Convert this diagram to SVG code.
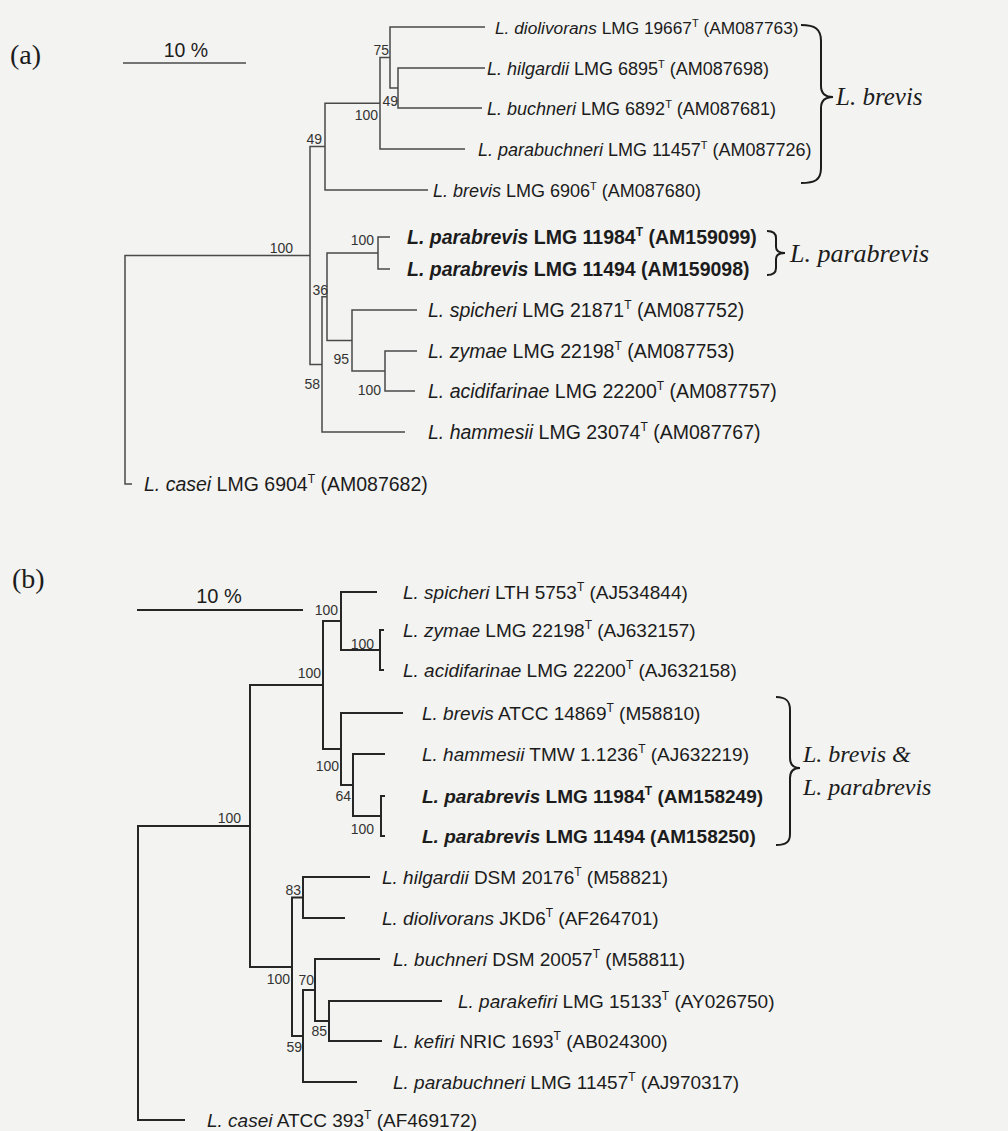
<svg xmlns="http://www.w3.org/2000/svg" width="1008" height="1131" viewBox="0 0 1008 1131">
<style>
.bg{fill:#f3f3f1}
.ta{font-family:"Liberation Sans",Arial,sans-serif;font-size:19.5px;fill:#1c1c1c}
.ts{font-family:"Liberation Sans",Arial,sans-serif;font-size:18px;fill:#1c1c1c}
.tb{font-family:"Liberation Sans",Arial,sans-serif;font-size:19px;fill:#1c1c1c}
.bd{font-weight:bold}
.it{font-style:italic}
.sup{font-size:12px}
.bs{font-family:"Liberation Sans",Arial,sans-serif;font-size:14px;fill:#333;text-anchor:end}
.panel{font-family:"Liberation Serif","Times New Roman",serif;font-size:28px;fill:#1c1c1c}
.grp{font-family:"Liberation Serif","Times New Roman",serif;font-size:25px;font-style:italic;fill:#1c1c1c}
.la{fill:none;stroke:#4a4a4a;stroke-width:1.5}
.lb{fill:none;stroke:#262626;stroke-width:2}
.br{fill:none;stroke:#1c1c1c;stroke-width:2}
</style>
<rect class="bg" x="0" y="0" width="1008" height="1131"/>

<!-- Panel (a) -->
<text class="panel" x="10" y="64">(a)</text>
<g id="scale-a">
<line class="la" x1="123" y1="63" x2="246" y2="63"/>
<text class="ta" x="186" y="57" text-anchor="middle">10 %</text>
</g>

<g id="connectors-a">
<path class="la" d="M485 68 H398 V108 H482"/>
<path class="la" d="M485 27 H390 V88 H398"/>
<path class="la" d="M390 57.5 H380 V149 H465"/>
<path class="la" d="M380 103.25 H325 V190 H428"/>
<path class="la" d="M390 237 H378 V269 H390"/>
<path class="la" d="M417 351 H385 V391 H415"/>
<path class="la" d="M417 310 H352 V371 H385"/>
<path class="la" d="M378 253 H327 V340.5 H352"/>
<path class="la" d="M327 296.75 H322 V432 H405"/>
<path class="la" d="M325 146.6 H310 V364.4 H322"/>
<path class="la" d="M310 255.5 H125 V484 H132"/>
</g>

<g id="bootstrap-a">
<text class="bs" x="389" y="55">75</text>
<text class="bs" x="398" y="106">49</text>
<text class="bs" x="378" y="120">100</text>
<text class="bs" x="322" y="144">49</text>
<text class="bs" x="293" y="253">100</text>
<text class="bs" x="374" y="245">100</text>
<text class="bs" x="328" y="295">36</text>
<text class="bs" x="349" y="364">95</text>
<text class="bs" x="320" y="389">58</text>
<text class="bs" x="381" y="395">100</text>
</g>

<g id="a-diolivorans"><text class="ts" x="495" y="33.5" style="font-size:17.3px"><tspan class="it">L. diolivorans</tspan> LMG 19667<tspan class="sup" dy="-7" style="font-size:11px">T</tspan><tspan dy="7"> (AM087763)</tspan></text></g>
<g id="a-hilgardii"><text class="ts" x="487" y="74.5"><tspan class="it">L. hilgardii</tspan> LMG 6895<tspan class="sup" dy="-7" style="font-size:11px">T</tspan><tspan dy="7"> (AM087698)</tspan></text></g>
<g id="a-buchneri"><text class="ts" x="487" y="114.5"><tspan class="it">L. buchneri</tspan> LMG 6892<tspan class="sup" dy="-7" style="font-size:11px">T</tspan><tspan dy="7"> (AM087681)</tspan></text></g>
<g id="a-parabuchneri"><text class="ts" x="478" y="155.5"><tspan class="it">L. parabuchneri</tspan> LMG 11457<tspan class="sup" dy="-7" style="font-size:11px">T</tspan><tspan dy="7"> (AM087726)</tspan></text></g>
<g id="a-brevis"><text class="ts" x="433" y="196.5"><tspan class="it">L. brevis</tspan> LMG 6906<tspan class="sup" dy="-7" style="font-size:11px">T</tspan><tspan dy="7"> (AM087680)</tspan></text></g>
<g id="a-parabrevis1"><text class="ta bd" x="407" y="244"><tspan class="it">L. parabrevis</tspan> LMG 11984<tspan class="sup" dy="-8">T</tspan><tspan dy="8"> (AM159099)</tspan></text></g>
<g id="a-parabrevis2"><text class="ta bd" x="407" y="276"><tspan class="it">L. parabrevis</tspan> LMG 11494 (AM159098)</text></g>
<g id="a-spicheri"><text class="ta" x="428" y="317"><tspan class="it">L. spicheri</tspan> LMG 21871<tspan class="sup" dy="-8">T</tspan><tspan dy="8"> (AM087752)</tspan></text></g>
<g id="a-zymae"><text class="ta" x="428" y="358"><tspan class="it">L. zymae</tspan> LMG 22198<tspan class="sup" dy="-8">T</tspan><tspan dy="8"> (AM087753)</tspan></text></g>
<g id="a-acidifarinae"><text class="ta" x="428" y="398"><tspan class="it">L. acidifarinae</tspan> LMG 22200<tspan class="sup" dy="-8">T</tspan><tspan dy="8"> (AM087757)</tspan></text></g>
<g id="a-hammesii"><text class="ta" x="428" y="439"><tspan class="it">L. hammesii</tspan> LMG 23074<tspan class="sup" dy="-8">T</tspan><tspan dy="8"> (AM087767)</tspan></text></g>
<g id="a-casei"><text class="ta" x="144" y="491"><tspan class="it">L. casei</tspan> LMG 6904<tspan class="sup" dy="-8">T</tspan><tspan dy="8"> (AM087682)</tspan></text></g>

<g id="group-a-brevis">
<path class="br" d="M801 25 C815 25 821 29 821 41 L821 86 C821 94 826 97 833 97 C826 97 821 100 821 108 L821 168 C821 180 815 183 801 183"/>
<text class="grp" x="836" y="105">L. brevis</text>
</g>
<g id="group-a-parabrevis">
<path class="br" d="M767 231 Q776 231 776 238 L776 247 Q776 253 785 253 Q776 253 776 259 L776 268 Q776 275 767 275"/>
<text class="grp" x="790" y="262" style="font-size:26px">L. parabrevis</text>
</g>

<!-- Panel (b) -->
<text class="panel" x="12" y="588">(b)</text>
<g id="scale-b">
<line class="lb" x1="137" y1="610" x2="303" y2="610"/>
<text class="tb" x="219" y="603" text-anchor="middle" style="font-size:20px">10 %</text>
</g>

<g id="connectors-b">
<path class="lb" d="M384 630 H380 V670 H384"/>
<path class="lb" d="M377 592 H341 V650 H380"/>
<path class="lb" d="M385 796 H381 V836 H385"/>
<path class="lb" d="M385 754 H353 V816 H381"/>
<path class="lb" d="M403 713 H341 V785 H353"/>
<path class="lb" d="M341 621 H323 V749 H341"/>
<path class="lb" d="M370 877 H303 V918 H345"/>
<path class="lb" d="M442 1001 H329 V1041 H382"/>
<path class="lb" d="M380 959 H315 V1021 H329"/>
<path class="lb" d="M315 990 H303 V1082 H357"/>
<path class="lb" d="M303 897.5 H292 V1036 H303"/>
<path class="lb" d="M323 685 H250 V967 H292"/>
<path class="lb" d="M250 826 H138 V1120 H185"/>
</g>

<g id="bootstrap-b">
<text class="bs" x="338" y="615">100</text>
<text class="bs" x="374" y="649">100</text>
<text class="bs" x="321" y="678">100</text>
<text class="bs" x="339" y="771">100</text>
<text class="bs" x="351" y="801">64</text>
<text class="bs" x="374" y="834">100</text>
<text class="bs" x="241" y="823">100</text>
<text class="bs" x="301" y="895">83</text>
<text class="bs" x="290" y="984">100</text>
<text class="bs" x="314" y="985">70</text>
<text class="bs" x="327" y="1036">85</text>
<text class="bs" x="302" y="1052">59</text>
</g>

<g id="b-spicheri"><text class="tb" x="403" y="599"><tspan class="it">L. spicheri</tspan> LTH 5753<tspan class="sup" dy="-8">T</tspan><tspan dy="8"> (AJ534844)</tspan></text></g>
<g id="b-zymae"><text class="tb" x="403" y="637"><tspan class="it">L. zymae</tspan> LMG 22198<tspan class="sup" dy="-8">T</tspan><tspan dy="8"> (AJ632157)</tspan></text></g>
<g id="b-acidifarinae"><text class="tb" x="403" y="677"><tspan class="it">L. acidifarinae</tspan> LMG 22200<tspan class="sup" dy="-8">T</tspan><tspan dy="8"> (AJ632158)</tspan></text></g>
<g id="b-brevis"><text class="tb" x="422" y="720"><tspan class="it">L. brevis</tspan> ATCC 14869<tspan class="sup" dy="-8">T</tspan><tspan dy="8"> (M58810)</tspan></text></g>
<g id="b-hammesii"><text class="tb" x="422" y="761"><tspan class="it">L. hammesii</tspan> TMW 1.1236<tspan class="sup" dy="-8">T</tspan><tspan dy="8"> (AJ632219)</tspan></text></g>
<g id="b-parabrevis1"><text class="tb bd" x="422" y="803"><tspan class="it">L. parabrevis</tspan> LMG 11984<tspan class="sup" dy="-8">T</tspan><tspan dy="8"> (AM158249)</tspan></text></g>
<g id="b-parabrevis2"><text class="tb bd" x="422" y="843"><tspan class="it">L. parabrevis</tspan> LMG 11494 (AM158250)</text></g>
<g id="b-hilgardii"><text class="tb" x="382" y="884"><tspan class="it">L. hilgardii</tspan> DSM 20176<tspan class="sup" dy="-8">T</tspan><tspan dy="8"> (M58821)</tspan></text></g>
<g id="b-diolivorans"><text class="tb" x="382" y="925"><tspan class="it">L. diolivorans</tspan> JKD6<tspan class="sup" dy="-8">T</tspan><tspan dy="8"> (AF264701)</tspan></text></g>
<g id="b-buchneri"><text class="tb" x="393" y="966"><tspan class="it">L. buchneri</tspan> DSM 20057<tspan class="sup" dy="-8">T</tspan><tspan dy="8"> (M58811)</tspan></text></g>
<g id="b-parakefiri"><text class="tb" x="458" y="1008"><tspan class="it">L. parakefiri</tspan> LMG 15133<tspan class="sup" dy="-8">T</tspan><tspan dy="8"> (AY026750)</tspan></text></g>
<g id="b-kefiri"><text class="tb" x="393" y="1048"><tspan class="it">L. kefiri</tspan> NRIC 1693<tspan class="sup" dy="-8">T</tspan><tspan dy="8"> (AB024300)</tspan></text></g>
<g id="b-parabuchneri"><text class="tb" x="393" y="1089"><tspan class="it">L. parabuchneri</tspan> LMG 11457<tspan class="sup" dy="-8">T</tspan><tspan dy="8"> (AJ970317)</tspan></text></g>
<g id="b-casei"><text class="tb" x="207" y="1127"><tspan class="it">L. casei</tspan> ATCC 393<tspan class="sup" dy="-8">T</tspan><tspan dy="8"> (AF469172)</tspan></text></g>

<g id="group-b">
<path class="br" d="M776 697 C786 697 790 701 790 710 L790 758 C790 765 794 768 800 768 C794 768 790 771 790 778 L790 834 C790 842 786 845 776 845"/>
<text class="grp" x="803" y="762" style="font-size:24px">L. brevis &amp;</text>
<text class="grp" x="803" y="795" style="font-size:24px">L. parabrevis</text>
</g>
</svg>
